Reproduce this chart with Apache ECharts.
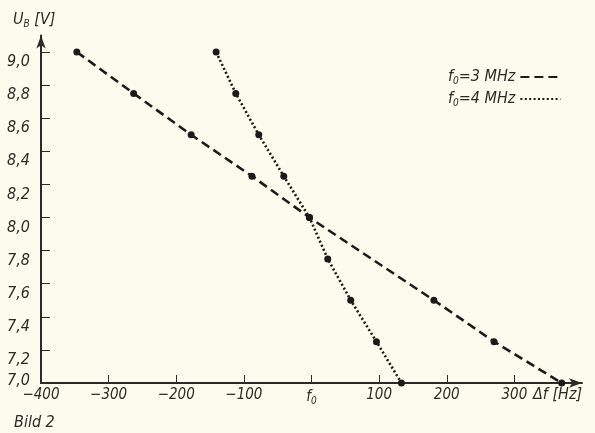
<!DOCTYPE html>
<html>
<head>
<meta charset="utf-8">
<script src="https://cdn.jsdelivr.net/npm/echarts@6/dist/echarts.min.js"></script>
<style>
html,body{margin:0;padding:0;background:#fcfcee;}
#c{width:595px;height:433px;}
</style>
</head>
<body>
<div id="c"></div>
<script>
// Data
const xTicks = [-400, -300, -200, -100, 0, 100, 200, 300];
const yTicks = [7.0, 7.2, 7.4, 7.6, 7.8, 8.0, 8.2, 8.4, 8.6, 8.8, 9.0];
const f3_x = [-347, -263, -178, -88, -3, 181, 270, 370];
const f3_y = [9.0, 8.75, 8.5, 8.25, 8.0, 7.5, 7.25, 7.0];
const f4_x = [-141, -112, -78, -41, -3, 24, 58, 96, 133];
const f4_y = [9.0, 8.75, 8.5, 8.25, 8.0, 7.75, 7.5, 7.25, 7.0];
const seriesNames = ['f₀=3 MHz', 'f₀=4 MHz'];

const FONT = '"Liberation Sans Narrow", "DejaVu Sans Condensed", sans-serif';
const INK = '#2b2a26';

function pairs(xs, ys) { return xs.map((x, i) => [x, ys[i]]); }

const chart = echarts.init(document.getElementById('c'), null, {renderer: 'canvas'});
const sub = {fontSize: 10, fontStyle: 'italic', fontFamily: FONT, color: INK, padding: [8, 0, 0, 0]};

chart.setOption({
  backgroundColor: '#fcfcee',
  animation: false,
  grid: {left: 41, right: 13, top: 35.5, bottom: 50, containLabel: false},
  xAxis: {
    type: 'value', min: -400, max: 400, interval: 100,
    axisLine: {show: true, onZero: false, symbol: ['none', 'arrow'], symbolSize: [7, 13], lineStyle: {color: INK, width: 2}},
    axisTick: {show: true, inside: true, length: 8, lineStyle: {color: INK, width: 1}},
    splitLine: {show: false},
    axisLabel: {
      margin: 5, color: INK, fontSize: 15, fontStyle: 'italic', fontFamily: FONT,
      showMaxLabel: false,
      formatter: function (v) {
        if (v === 0) return 'f{s|0}';
        if (v >= 400) return '';
        return String(v).replace('-', '−');
      },
      rich: {s: sub}
    }
  },
  yAxis: {
    type: 'value', min: 7.0, max: 9.1, interval: 0.2,
    axisLine: {show: true, onZero: false, symbol: ['none', 'arrow'], symbolSize: [7, 13], lineStyle: {color: INK, width: 2}},
    axisTick: {show: true, inside: true, length: 9, lineStyle: {color: INK, width: 1}},
    splitLine: {show: false},
    axisLabel: {
      margin: 11, color: INK, fontSize: 16, fontStyle: 'italic', fontFamily: FONT,
      showMaxLabel: false,
      formatter: function (v) {
        const t = v.toFixed(1).replace('.', ',');
        if (Math.abs(v - 7.0) < 1e-6) return '{z|' + t + '}';
        if (v > 9.05) return '';
        return '{n|' + t + '}';
      },
      rich: {
        n: {fontSize: 16, fontStyle: 'italic', fontFamily: FONT, color: INK, padding: [20, 0, 0, 0]},
        z: {fontSize: 16, fontStyle: 'italic', fontFamily: FONT, color: INK, padding: [0, 0, 4, 0]}
      }
    }
  },
  legend: {
    orient: 'vertical', align: 'right', left: 443, top: 64,
    itemWidth: 40, itemHeight: 12, itemGap: 5,
    itemStyle: {opacity: 0},
    textStyle: {color: INK, fontSize: 16, fontStyle: 'italic', fontFamily: FONT,
      rich: {s: sub, t: {fontSize: 16, fontStyle: 'italic', fontFamily: FONT, color: INK}}},
    formatter: function (name) {
      return '{t|f}{s|0}{t|' + name.slice(2) + '}';
    },
    data: seriesNames
  },
  series: [
    {
      name: seriesNames[0], type: 'line', data: pairs(f3_x, f3_y),
      symbol: 'circle', symbolSize: 7,
      itemStyle: {color: '#1a1a18'},
      lineStyle: {color: '#1a1a18', width: 2.6, type: [9, 5]}
    },
    {
      name: seriesNames[1], type: 'line', data: pairs(f4_x, f4_y),
      symbol: 'circle', symbolSize: 7,
      itemStyle: {color: '#1a1a18'},
      lineStyle: {color: '#1a1a18', width: 2.6, type: [2, 2.4]}
    }
  ],
  graphic: [
    {type: 'text', left: 13, top: 12, style: {
      text: '{t|U}{s|B}{t| [V]}', fill: INK,
      rich: {t: {fontSize: 16, fontStyle: 'italic', fontFamily: FONT, fill: INK, color: INK}, s: sub}
    }},
    {type: 'text', left: 533, top: 387, style: {
      text: 'Δf [Hz]', fill: INK, fontSize: 16, fontStyle: 'italic', fontFamily: FONT
    }},
    {type: 'text', left: 14, top: 415, style: {
      text: 'Bild 2', fill: INK, fontSize: 16, fontStyle: 'italic', fontFamily: FONT
    }}
  ]
});
</script>
</body>
</html>
